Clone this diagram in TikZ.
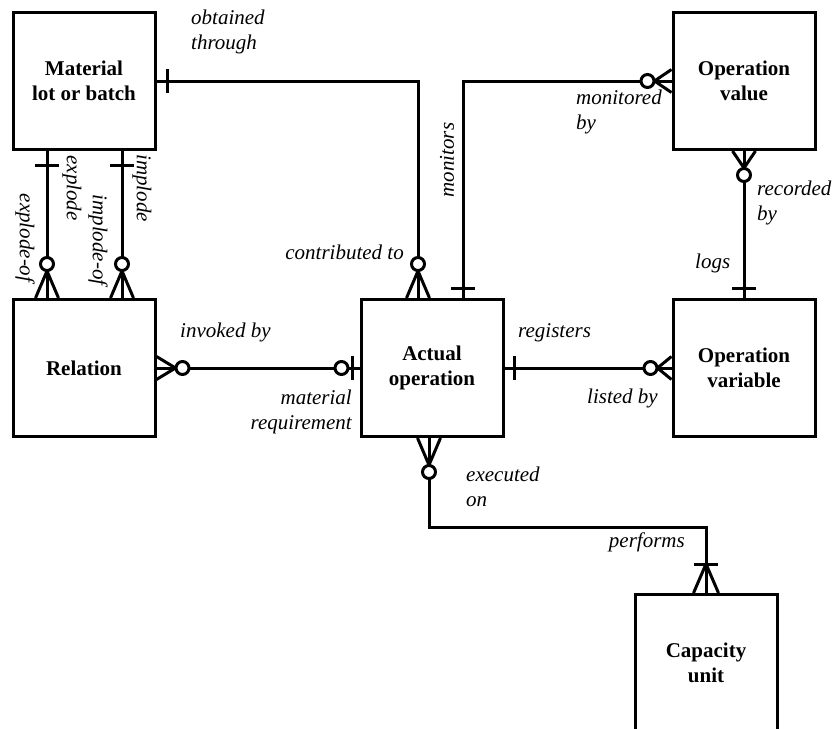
\documentclass[tikz,border=0pt]{standalone}
\usepackage{fontspec}
\setmainfont{Liberation Serif}
\usetikzlibrary{calc}
\begin{document}
\begin{tikzpicture}[x=1pt,y=-1pt,
  entity/.style={draw, line width=3pt, minimum width=142pt, minimum height=137pt,
    align=center, inner sep=0pt, font=\fontsize{21}{25}\selectfont\bfseries},
  link/.style={line width=3pt},
  lbl/.style={inner sep=0pt, font=\fontsize{21}{25}\selectfont\itshape},
  % cardinality marks, drawn with +x pointing away from the entity edge
  pics/one/.style={code={\draw[link] (#1,-12) -- (#1,12);}},
  pics/crowzero/.style={code={
    \draw[link] (0,-11.5) -- (#1,0) -- (0,11.5);
    \draw[link, fill=white] ({#1+7},0) circle[radius=6.5pt];}},
  pics/zeroone/.style={code={
    \draw[link] (7,-12) -- (7,12);
    \draw[link, fill=white] (18,0) circle[radius=6.5pt];}},
  pics/onemany/.style={code={
    \draw[link] (0,-12.5) -- (29,0) -- (0,12.5);
    \draw[link] (29,-12) -- (29,12);}}
]
\useasboundingbox (0,0) rectangle (835,728);
\clip (0,0) rectangle (835,728);

% entities
\node[entity] (mat)  at (84,81)   {Material\\lot or batch};
\node[entity] (rel)  at (84,368)  {Relation};
\node[entity] (ao)   at (432,368) {Actual\\operation};
\node[entity] (ov)   at (744,81)  {Operation\\value};
\node[entity] (ovar) at (744,368) {Operation\\variable};
\node[entity] (cu)   at (706,663) {Capacity\\unit};

% attachment points
\coordinate (aoN1) at ($(ao.north)+(-14,0)$);
\coordinate (aoN2) at ($(ao.north)+(31,0)$);
\coordinate (aoS)  at ($(ao.south)+(-3,0)$);
\coordinate (elbow) at ($(aoS)+(0,89)$);
\coordinate (matS1) at ($(mat.south)+(-37,0)$);
\coordinate (matS2) at ($(mat.south)+(38,0)$);
\coordinate (relN1) at ($(rel.north)+(-37,0)$);
\coordinate (relN2) at ($(rel.north)+(38,0)$);

% relationship lines
\draw[link] (mat.east) -| (aoN1);
\draw[link] (aoN2) |- (ov.west);
\draw[link] (ov.south) -- (ovar.north);
\draw[link] (ao.east) -- (ovar.west);
\draw[link] (rel.east) -- (ao.west);
\draw[link] (matS1) -- (relN1);
\draw[link] (matS2) -- (relN2);
\draw[link] (aoS) -- (elbow) -| (cu.north);

% cardinality marks
\pic at (mat.east) {one=11};
\pic[rotate=90] at (aoN1) {crowzero=27};
\pic[rotate=90] at (aoN2) {one=10};
\pic[rotate=180] at (ov.west) {crowzero=17};
\pic[rotate=-90] at (ov.south) {crowzero=17};
\pic[rotate=90] at (ovar.north) {one=10};
\pic at (ao.east) {one=10};
\pic[rotate=180] at (ovar.west) {crowzero=14};
\pic at (rel.east) {crowzero=19};
\pic[rotate=180] at (ao.west) {zeroone};
\pic[rotate=-90] at (matS1) {one=14};
\pic[rotate=-90] at (matS2) {one=14};
\pic[rotate=90] at (relN1) {crowzero=27};
\pic[rotate=90] at (relN2) {crowzero=27};
\pic[rotate=-90] at (aoS) {crowzero=27};
\pic[rotate=90] at (cu.north) {onemany};

% role names
\node[lbl, anchor=west, align=left] (tObt) at (191,32) {obtained\\through};
\node[lbl, rotate=-90] (tExp) at (72,188) {explode};
\node[lbl, rotate=-90] (tExpOf) at (25,238) {explode-of};
\node[lbl, rotate=-90] (tImp) at (142,188) {implode};
\node[lbl, rotate=-90] (tImpOf) at (98,240) {implode-of};
\node[lbl, rotate=90] (tMon) at (447,160) {monitors};
\node[lbl, anchor=east] (tCon) at (404,252) {contributed to};
\node[lbl, anchor=west, align=left] (tMonBy) at (576,112) {monitored\\by};
\node[lbl, anchor=west, align=left] (tRec) at (757,203) {recorded\\by};
\node[lbl, anchor=west] (tLogs) at (695,263) {logs};
\node[lbl, anchor=west] (tInv) at (180,332) {invoked by};
\node[lbl, anchor=east, align=right] (tMatReq) at (352,412) {material\\requirement};
\node[lbl, anchor=west] (tReg) at (518,333) {registers};
\node[lbl, anchor=west] (tList) at (587,398) {listed by};
\node[lbl, anchor=west, align=left] (tExe) at (466,487) {executed\\on};
\node[lbl, anchor=east] (tPerf) at (685,542) {performs};
\end{tikzpicture}
\end{document}
